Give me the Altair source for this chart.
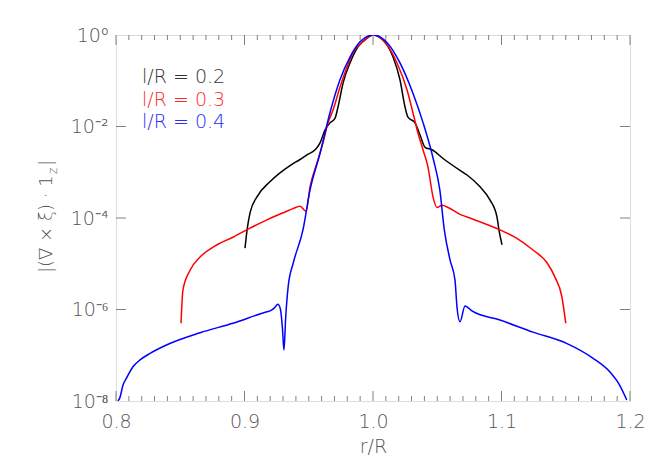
import altair as alt
import pandas as pd
import math

# ---- data ----
blue_x = [0.8015, 0.8031, 0.8054, 0.8085, 0.8132, 0.8187, 0.8265, 0.8397, 0.8654, 0.891, 0.9175, 0.920,
          0.9235, 0.926, 0.928, 0.9295, 0.9307, 0.932, 0.934, 0.938, 0.9455, 0.951, 0.9588, 0.9665,
          0.9743, 0.9821, 0.9899, 1.0, 1.011, 1.021, 1.031, 1.039, 1.047, 1.052, 1.0555, 1.06, 1.0638,
          1.0654, 1.0677, 1.0716, 1.077, 1.0988, 1.1245, 1.151, 1.171, 1.1844, 1.192, 1.1975]
blue_y = [1.0e-8, 1.2e-8, 2.2e-8, 3.3e-8, 5.6e-8, 7.9e-8, 1.1e-7, 1.7e-7, 3.1e-7, 5.0e-7, 8.9e-7, 9.3e-7,
          1.1e-6, 1.3e-6, 1.0e-6, 4.0e-7, 1.3e-7, 6.3e-7, 3.2e-6, 1.05e-5, 5.5e-5, 4.1e-4, 2.6e-3, 2.0e-2,
          0.105, 0.33, 0.71, 1.0, 0.68, 0.245, 0.054, 0.012, 1.9e-3, 4.1e-4, 5.5e-5, 1.2e-5, 4.4e-6,
          1.1e-6, 5.4e-7, 1.2e-6, 9.3e-7, 5.9e-7, 3.2e-7, 1.8e-7, 8.7e-8, 4.3e-8, 2.2e-8, 1.05e-8]

red_x = [0.8506, 0.8521, 0.8576, 0.8654, 0.8786, 0.891, 0.9043, 0.9175, 0.93, 0.9377, 0.9432, 0.9479,
         0.951, 0.9564, 0.9611, 0.965, 0.9689, 0.9743, 0.9798, 0.9844, 0.9922, 1.0, 1.011, 1.0187,
         1.0265, 1.0311, 1.035, 1.0389, 1.0428, 1.0467, 1.0498, 1.0537, 1.0584, 1.0677, 1.0732, 1.0988,
         1.112, 1.1245, 1.1354, 1.1416, 1.147, 1.150]
red_y = [5.0e-7, 2.7e-6, 7.2e-6, 1.4e-5, 2.6e-5, 3.8e-5, 6.0e-5, 9.1e-5, 1.3e-4, 1.6e-4, 1.8e-4, 1.4e-4,
         4.8e-4, 1.6e-3, 4.4e-3, 1.2e-2, 2.3e-2, 7.2e-2, 0.2, 0.41, 0.71, 1.0, 0.6, 0.245,
         0.063, 0.02, 7.2e-3, 3.1e-3, 1.3e-3, 2.9e-4, 1.7e-4, 1.9e-4, 1.7e-4, 1.2e-4, 1.05e-4, 5.5e-5,
         3.6e-5, 2.0e-5, 1.05e-5, 5.1e-6, 1.9e-6, 5.0e-7]

black_x = [0.9004, 0.902, 0.9043, 0.9097, 0.9198, 0.9354, 0.9432, 0.9486, 0.9549, 0.9588, 0.9626, 0.9665,
           0.9704, 0.9728, 0.9767, 0.9821, 0.9883, 0.9953, 1.0, 1.0078, 1.0156, 1.021, 1.0249, 1.0272,
           1.0327, 1.0366, 1.0405, 1.0459, 1.0545, 1.0677, 1.0732, 1.0833, 1.091, 1.0965, 1.098, 1.1004]
black_y = [2.2e-5, 5.5e-5, 1.3e-4, 2.9e-4, 6.2e-4, 1.4e-3, 1.9e-3, 2.4e-3, 3.1e-3, 4.4e-3, 8.3e-3, 1.2e-2,
           1.5e-2, 2.7e-2, 8.9e-2, 0.245, 0.55, 0.85, 1.0, 0.78, 0.33, 0.105, 2.7e-2, 1.6e-2,
           1.2e-2, 6.5e-3, 3.5e-3, 3.1e-3, 2.0e-3, 1.1e-3, 8.7e-4, 4.8e-4, 2.5e-4, 1.05e-4, 5.5e-5, 2.6e-5]

series_names = ["l/R = 0.2", "l/R = 0.3", "l/R = 0.4"]
series_colors = ["#000000", "#ff0000", "#0000ff"]
legend_colors = ["#333333", "#ff2a2a", "#2a2aff"]

x_tick_values = [0.8, 0.9, 1.0, 1.1, 1.2]
x_minor_values = [round(0.8 + 0.01 * i, 2) for i in range(41) if i % 10 != 0]
y_tick_values = [1.0, 1e-2, 1e-4, 1e-6, 1e-8]
y_tick_labels = ["10⁰", "10⁻²", "10⁻⁴", "10⁻⁶", "10⁻⁸"]

x_title = "r/R"
y_title_main = "|(∇ × ξ) · 1"
y_title_sub = "z"
y_title_end = "|"

# ---- build ----
W, H = 514, 366
FONT = "DejaVu Sans"
FW = 200
GRAY = "#808080"
TXT = "#555555"

rows = []
for name, xs, ys in [(series_names[0], black_x, black_y),
                     (series_names[1], red_x, red_y),
                     (series_names[2], blue_x, blue_y)]:
    for i, (a, b) in enumerate(zip(xs, ys)):
        rows.append({"series": name, "x": a, "y": b, "order": i})
df = pd.DataFrame(rows)

xscale = alt.Scale(domain=[0.8, 1.2], nice=False, zero=False)
yscale = alt.Scale(type="log", domain=[1e-8, 1.0], nice=False)

ylab_expr = " : ".join(
    f"abs(log(datum.value)/LN10 - ({int(round(math.log10(v)))})) < 0.01 ? '{lab}'"
    for v, lab in zip(y_tick_values, y_tick_labels)
) + " : ''"

xaxis = alt.Axis(values=x_tick_values, format=".1f", title=x_title, domain=False, ticks=False,
                 grid=False, labelPadding=11, titlePadding=6, labelFont=FONT, titleFont=FONT,
                 labelFontSize=19, titleFontSize=19, labelColor=TXT, titleColor=TXT,
                 labelFontWeight=FW, titleFontWeight=FW, labelFlush=False)
yaxis = alt.Axis(values=y_tick_values, labelExpr=ylab_expr, title=None, domain=False, ticks=False,
                 grid=False, labelPadding=8, labelFont=FONT, labelFontSize=19, labelColor=TXT,
                 labelFontWeight=FW, labelFlush=False)

lines = alt.Chart(df).mark_line(strokeWidth=1.5, interpolate="monotone", clip=True).encode(
    x=alt.X("x:Q", scale=xscale, axis=xaxis),
    y=alt.Y("y:Q", scale=yscale, axis=yaxis),
    color=alt.Color("series:N", scale=alt.Scale(domain=series_names, range=series_colors), legend=None),
    order="order:Q",
)

xmaj = pd.DataFrame({"v": x_tick_values})
xmin = pd.DataFrame({"v": x_minor_values})
ymaj = pd.DataFrame({"v": y_tick_values[1:-1]})

def xticks(d, length):
    bot = alt.Chart(d).mark_rule(color=GRAY, strokeWidth=1).encode(
        x=alt.X("v:Q", scale=xscale, axis=xaxis), y=alt.value(H), y2=alt.value(H - length))
    top = alt.Chart(d).mark_rule(color=GRAY, strokeWidth=1).encode(
        x=alt.X("v:Q", scale=xscale, axis=xaxis), y=alt.value(0), y2=alt.value(length))
    return [bot, top]

def yticks(d, length):
    left = alt.Chart(d).mark_rule(color=GRAY, strokeWidth=1).encode(
        y=alt.Y("v:Q", scale=yscale, axis=yaxis), x=alt.value(0), x2=alt.value(length))
    right = alt.Chart(d).mark_rule(color=GRAY, strokeWidth=1).encode(
        y=alt.Y("v:Q", scale=yscale, axis=yaxis), x=alt.value(W - length), x2=alt.value(W))
    return [left, right]

legend_layers = []
for i, (name, col) in enumerate(zip(series_names, legend_colors)):
    legend_layers.append(
        alt.Chart(pd.DataFrame({"t": [name]})).mark_text(
            align="left", baseline="middle", font=FONT, fontSize=19, fontWeight=FW, color=col
        ).encode(text="t:N", x=alt.value(26), y=alt.value(42 + 22.5 * i))
    )

ytitle_layers = [
    alt.Chart(pd.DataFrame({"t": [y_title_main]})).mark_text(
        align="left", baseline="middle", angle=270, font=FONT, fontSize=18, fontWeight=FW, color=TXT
    ).encode(text="t:N", x=alt.value(-69), y=alt.value(238)),
    alt.Chart(pd.DataFrame({"t": [y_title_sub]})).mark_text(
        align="left", baseline="middle", angle=270, font=FONT, fontSize=12, fontWeight=FW, color=TXT
    ).encode(text="t:N", x=alt.value(-63), y=alt.value(139)),
    alt.Chart(pd.DataFrame({"t": [y_title_end]})).mark_text(
        align="left", baseline="middle", angle=270, font=FONT, fontSize=18, fontWeight=FW, color=TXT
    ).encode(text="t:N", x=alt.value(-69), y=alt.value(131)),
]

chart = alt.layer(
    lines,
    *xticks(xmaj, 10), *xticks(xmin, 5), *yticks(ymaj, 10),
    *legend_layers, *ytitle_layers,
).properties(
    width=W, height=H,
    autosize=alt.AutoSizeParams(type="none"),
    padding={"left": 108, "top": 27, "right": 26, "bottom": 66},
).configure_view(stroke=GRAY, strokeWidth=1).configure(background="white")

chart.save("out.html", embed_options={"renderer": "svg", "actions": False})
